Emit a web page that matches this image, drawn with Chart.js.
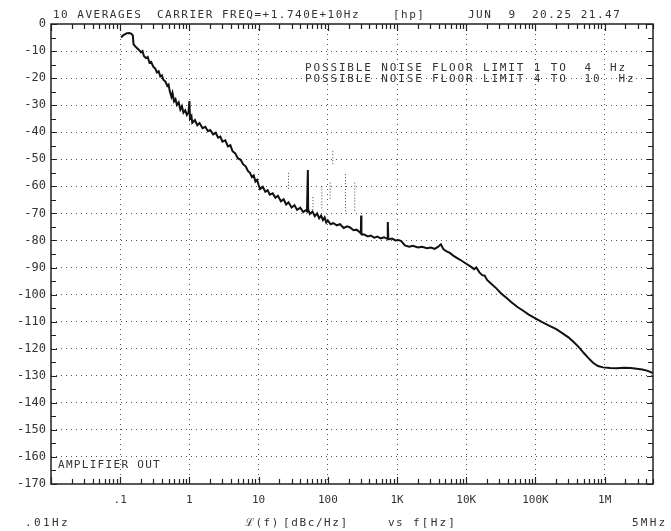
<!DOCTYPE html>
<html>
<head>
<meta charset="utf-8">
<script src="https://cdn.jsdelivr.net/npm/chart.js@4.4.1/dist/chart.umd.min.js"></script>
<style>
  body { margin: 0; background: #fff; }
  #wrap { width: 671px; height: 531px; position: relative; }
</style>
</head>
<body>
<div id="wrap"><canvas id="plot"></canvas></div>
<script>
// phase noise trace (Hz, dBc/Hz)
var freqHz = [0.103, 0.11, 0.125, 0.136, 0.145, 0.152, 0.156, 0.17, 0.19, 0.2, 0.21, 0.22, 0.235, 0.25, 0.265, 0.28,
  0.3, 0.32, 0.34, 0.36, 0.38, 0.4, 0.42, 0.45, 0.48, 0.5, 0.52, 0.55, 0.57, 0.6, 0.63, 0.66, 0.7, 0.74, 0.78, 0.82,
  0.87, 0.92, 0.97, 1.0, 1.02, 1.07, 1.1, 1.2, 1.3, 1.4, 1.55, 1.7, 1.85, 2.0, 2.2, 2.4, 2.6, 2.8, 3.0, 3.3, 3.6, 3.9,
  4.2, 4.6, 5.0, 5.5, 6.0, 6.5, 7.0, 7.5, 8.0, 8.5, 9.0, 9.5, 10, 10.5, 11.5, 12.5, 13.5, 14.5, 16, 17.5, 19, 21, 23,
  25, 27, 30, 33, 36, 40, 44, 48, 50, 51.5, 52, 55, 60, 65, 70, 75, 80, 85, 90, 95, 100, 110, 120, 135, 150, 170, 190,
  210, 235, 260, 290, 300, 303, 306, 340, 380, 420, 470, 520, 580, 650, 720, 735, 750, 850, 950, 1050, 1150, 1300,
  1500, 1700, 2000, 2300, 2700, 3100, 3500, 3900, 4300, 4700, 5200, 5800, 6500, 7500, 8500, 10000, 11500, 13000,
  14000, 15500, 17000, 18500, 20000, 23000, 27000, 32000, 38000, 45000, 55000, 65000, 80000, 100000, 125000, 160000,
  200000, 250000, 300000, 360000, 430000, 500000, 580000, 680000, 800000, 950000, 1.2e6, 1.5e6, 1.9e6, 2.4e6, 2.9e6,
  3.5e6, 4.2e6, 5e6];
var levelDb = [-5.0, -4.2, -3.4, -3.3, -3.6, -4.2, -7.5, -8.6, -9.8, -10.5, -10.0, -11.8, -12.6, -12.2, -14.3, -14.0,
  -15.8, -16.4, -17.9, -17.5, -19.4, -19.0, -20.6, -21.3, -22.9, -22.4, -24.8, -26.9, -25.5, -28.6, -27.8, -29.9,
  -29.0, -31.6, -30.4, -32.8, -31.9, -33.6, -32.7, -28.5, -34.9, -34.0, -36.5, -35.5, -37.4, -36.6, -38.5, -38.0,
  -39.6, -39.2, -40.8, -40.2, -42.0, -41.6, -43.5, -43.0, -45.2, -44.8, -47.0, -47.8, -49.6, -50.2, -51.9, -52.6,
  -54.3, -55.0, -56.5, -56.0, -58.2, -57.6, -59.5, -61.0, -60.2, -62.0, -61.4, -63.1, -62.6, -64.2, -63.5, -65.5,
  -64.8, -66.7, -65.9, -67.8, -67.0, -68.7, -67.9, -69.5, -68.8, -69.2, -54.0, -68.5, -70.2, -69.3, -71.0, -70.0,
  -71.8, -70.8, -72.5, -71.5, -73.4, -72.6, -74.0, -73.6, -74.4, -74.0, -75.4, -74.8, -75.2, -76.2, -76.0, -77.0,
  -77.4, -70.8, -77.6, -77.9, -78.5, -78.2, -79.0, -78.6, -79.2, -78.8, -79.4, -73.2, -79.6, -79.3, -80.0, -79.8,
  -80.2, -81.8, -82.3, -82.0, -82.6, -82.3, -82.9, -82.6, -83.1, -82.4, -81.4, -83.3, -84.0, -84.6, -85.6, -86.6,
  -87.4, -88.6, -89.6, -90.6, -90.0, -91.8, -92.8, -93.0, -94.6, -96.0, -97.6, -99.6, -101.2, -102.8, -104.6,
  -105.8, -107.4, -108.8, -110.2, -111.6, -112.8, -114.4, -115.8, -117.6, -119.6, -121.6, -123.4, -125.2, -126.4,
  -126.9, -127.1, -127.2, -127.0, -127.1, -127.4, -127.7, -128.2, -129.0];

// faint dotted spur traces, pairs separated by gaps
var traceHz = [27, 27, 27, 61, 61, 61, 82, 82, 82, 108, 108, 108, 118, 118, 118, 180, 180, 180, 245, 245];
var traceDb = [-55, -61, null, -64, -69, null, -60, -69, null, -58.6, -64.8, null, -47, -52.5, null, -55.5, -70, null, -58.6, -69.7];

// axis ticks and labels
var decadeHz = [0.01, 0.1, 1, 10, 100, 1000, 10000, 100000, 1000000, 5000000];
var decadeLabels = ['', '.1', '1', '10', '100', '1K', '10K', '100K', '1M', ''];
var yMin = -170, yMax = 0;

var mainData = freqHz.map(function (f, i) { return { x: f, y: levelDb[i] }; });
var traceData = traceHz.map(function (f, i) { return { x: f, y: traceDb[i] }; });

var monoFont = '"DejaVu Sans Mono", monospace';

function txt(ctx, s, x, y, spacing, align) {
  ctx.letterSpacing = spacing + 'px';
  ctx.textAlign = align || 'left';
  ctx.fillText(s, x, y);
}

var decor = {
  id: 'decor',
  afterDraw: function (chart) {
    var ctx = chart.ctx, a = chart.chartArea;
    var xs = chart.scales.x, ys = chart.scales.y;
    ctx.save();
    ctx.strokeStyle = '#222';
    ctx.lineWidth = 1.5;
    ctx.strokeRect(a.left, a.top, a.right - a.left, a.bottom - a.top);

    // log tick marks, top and bottom
    ctx.lineWidth = 1.2;
    ctx.beginPath();
    for (var k = -2; k <= 6; k++) {
      for (var m = 1; m <= 9; m++) {
        var v = m * Math.pow(10, k);
        if (v < 0.01 || v > 5e6) continue;
        var px = Math.round(xs.getPixelForValue(v)) + 0.5;
        var len = m === 1 ? 7 : 5;
        ctx.moveTo(px, a.top); ctx.lineTo(px, a.top + len);
        ctx.moveTo(px, a.bottom); ctx.lineTo(px, a.bottom - len);
      }
    }
    // 5 dB tick marks, left and right
    for (var d = yMax; d >= yMin; d -= 5) {
      var py = Math.round(ys.getPixelForValue(d)) + 0.5;
      var l = d % 10 === 0 ? 6 : 5;
      ctx.moveTo(a.left, py); ctx.lineTo(a.left + l, py);
      ctx.moveTo(a.right, py); ctx.lineTo(a.right - l, py);
    }
    ctx.stroke();

    // plotter text
    ctx.fillStyle = '#333';
    ctx.font = '11px ' + monoFont;
    ctx.textBaseline = 'middle';
    txt(ctx, '10 AVERAGES', 53, 15, 1.5);
    txt(ctx, 'CARRIER FREQ=+1.740E+10Hz', 157, 15, 1.5);
    txt(ctx, '[hp]', 393, 15, 1.5);
    txt(ctx, 'JUN  9', 468, 15, 1.5);
    txt(ctx, '20.25 21.47', 532, 15, 1.5);
    txt(ctx, 'POSSIBLE NOISE FLOOR LIMIT 1 TO  4  Hz', 305, 68, 1.85);
    txt(ctx, 'POSSIBLE NOISE FLOOR LIMIT 4 TO  10  Hz', 305, 79, 1.85);
    txt(ctx, 'AMPLIFIER OUT', 58, 465, 1.3);
    txt(ctx, '.01Hz', 25, 523, 2.4);
    txt(ctx, 'ℒ(f)', 245, 523, 1.5);
    txt(ctx, '[dBc/Hz]', 283, 523, 1.6);
    txt(ctx, 'vs', 388, 523, 1.5);
    txt(ctx, 'f[Hz]', 413, 523, 2.2);
    txt(ctx, '5MHz', 632, 523, 2.2);
    ctx.restore();
  }
};

new Chart(document.getElementById('plot'), {
  type: 'scatter',
  data: {
    datasets: [{
      label: 'L(f)',
      data: mainData,
      showLine: true,
      borderColor: '#111',
      borderWidth: 2,
      pointRadius: 0,
      tension: 0
    }, {
      label: 'traces',
      data: traceData,
      showLine: true,
      spanGaps: false,
      borderColor: '#444',
      borderWidth: 1,
      borderDash: [1, 2],
      pointRadius: 0
    }]
  },
  options: {
    responsive: true,
    maintainAspectRatio: false,
    animation: false,
    layout: { padding: { top: 24, right: 18, left: 0, bottom: 0 } },
    plugins: { legend: { display: false }, tooltip: { enabled: false } },
    scales: {
      x: {
        type: 'logarithmic',
        min: 0.01,
        max: 5e6,
        afterBuildTicks: function (scale) {
          scale.ticks = decadeHz.map(function (v) { return { value: v }; });
        },
        afterFit: function (scale) { scale.height = 47; },
        ticks: {
          autoSkip: false,
          maxRotation: 0,
          padding: 10,
          color: '#333',
          font: { family: monoFont, size: 11 },
          callback: function (value) {
            var i = decadeHz.indexOf(value);
            return i >= 0 ? decadeLabels[i] : '';
          }
        },
        grid: {
          drawTicks: false,
          color: function (c) {
            var v = c.tick && c.tick.value;
            return (v === 0.01 || v === 5e6) ? 'rgba(0,0,0,0)' : '#555';
          }
        },
        border: { display: false, dash: [1, 4] }
      },
      y: {
        min: yMin,
        max: yMax,
        afterFit: function (scale) { scale.width = 51; },
        ticks: {
          stepSize: 10,
          padding: 5,
          color: '#333',
          font: { family: monoFont, size: 12 }
        },
        grid: {
          drawTicks: false,
          color: function (c) {
            var v = c.tick && c.tick.value;
            return (v === yMin || v === yMax) ? 'rgba(0,0,0,0)' : '#555';
          }
        },
        border: { display: false, dash: [1, 4] }
      }
    }
  },
  plugins: [decor]
});
</script>
</body>
</html>
